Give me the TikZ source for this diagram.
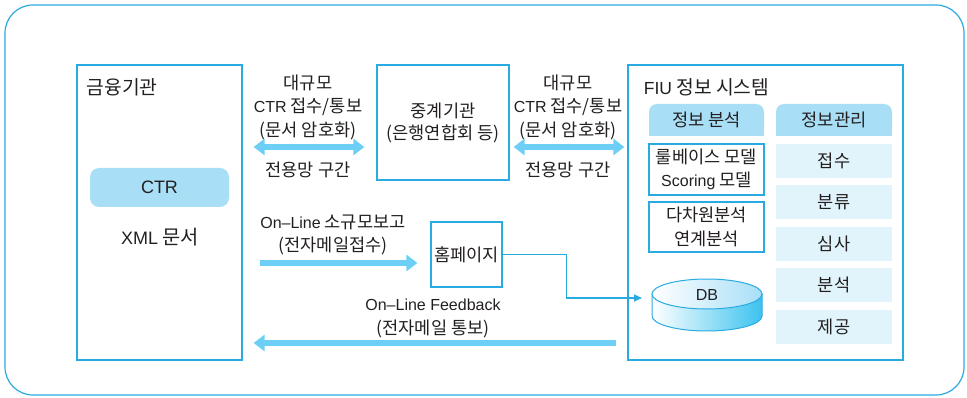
\documentclass[tikz,border=0pt]{standalone}
\usepackage{fontspec}
\setmainfont{Noto Sans CJK KR}[Scale=1.1]
\newfontfamily\lat{Liberation Sans}
\usetikzlibrary{arrows.meta}
\definecolor{fiuline}{HTML}{29ABE2}
\definecolor{fiuarrow}{HTML}{6DCFF6}
\definecolor{fiuhead}{HTML}{A8DFF7}
\definecolor{fiucell}{HTML}{E1F4FC}
\definecolor{fiudb}{HTML}{3CC3EF}
\definecolor{fiutext}{HTML}{231F20}
\tikzset{
	frame/.style={draw=fiuline,line width=1.2pt,inner sep=0pt},
	lbl/.style={text=fiutext,align=center,font=\fontsize{16}{23.5}\selectfont},
	biglbl/.style={text=fiutext,align=center,font=\fontsize{18}{22}\selectfont},
	ttl/.style={text=fiutext,anchor=west,font=\fontsize{17.5}{20}\selectfont},
	fat/.style={draw=fiuarrow,line width=6pt},
	fattip/.tip={Triangle[width=16pt,length=11pt]},
	link/.style={draw=fiuline,line width=1.5pt,-{Triangle[width=7pt,length=8pt]}}
}
\begin{document}
\begin{tikzpicture}[x=1pt,y=1pt]
				\useasboundingbox (0,0) rectangle (967,-398);
				%outer frame
				\draw[fiuline,line width=1.2pt,rounded corners=28] (5,-5) rectangle (964,-395);
				%bank
				\node[frame,minimum width=165,minimum height=295] (bank) at (159.5,-212.5) {};
				\node[ttl] (bankt) at (83,-87) {금융기관};
				\node[fill=fiuhead,rounded corners=9,minimum width=139,minimum height=39,biglbl] (ctr) at (159.5,-187.5) {\lat CTR};
				\node[biglbl] (xml) at (160,-237) {{\lat XML} 문서};
				%relay
				\node[frame,minimum width=132,minimum height=115,lbl] (relay) at (443,-122.5) {중계기관\\[-1.5pt](은행연합회 등)};
				%fiu system
				\node[frame,minimum width=275,minimum height=295] (fiu) at (765.5,-212.5) {};
				\node[ttl] (fiut) at (640,-87) {{\lat FIU} 정보 시스템};
				%%analysis column
				\fill[fiuhead,rounded corners=8] (649,-104) rectangle (764,-136);
				\fill[fiuhead] (649,-120) rectangle (764,-136);
				\node[lbl] (anal) at (706.5,-120) {정보 분석};
				\node[frame,minimum width=115,minimum height=51,lbl] (rule) at (706.5,-169.5) {룰베이스 모델\\{\lat Scoring} 모델};
				\node[frame,minimum width=115,minimum height=50,lbl] (multi) at (706.5,-227) {다차원분석\\연계분석};
				%%db
				\shade[left color=white,right color=fiudb,draw=fiuline,line width=1pt] (652,-294) -- (652,-316) arc[start angle=180,end angle=360,x radius=55,y radius=15] -- (762,-294) -- cycle;
				\shade[left color=white,right color=fiuhead,draw=fiuline,line width=1pt] (707,-294) ellipse[x radius=55,y radius=15];
				\node[lbl] (db) at (707,-295) {\lat DB};
				\coordinate (dbw) at (652,-298);
				%%management column
				\fill[fiuhead,rounded corners=8] (776,-104) rectangle (892,-136);
				\fill[fiuhead] (776,-120) rectangle (892,-136);
				\node[lbl] (mgmt) at (834,-120) {정보관리};
				\foreach \task [count=\i from 0] in {접수,분류,심사,분석,제공}
					\node[fill=fiucell,minimum width=116,minimum height=34,lbl] (cell\i) at (834,-161-41.4*\i) {\task};
				%homepage
				\node[frame,minimum width=71,minimum height=65,lbl] (web) at (466.5,-254.5) {홈페이지};
				%labels
				\node[lbl] (lnk1t) at (308,-107) {대규모\\{\lat CTR} 접수/통보\\(문서 암호화)};
				\node[lbl] (lnk1b) at (308,-170) {전용망 구간};
				\node[lbl] (lnk2t) at (568,-107) {대규모\\{\lat CTR} 접수/통보\\(문서 암호화)};
				\node[lbl] (lnk2b) at (568,-170) {전용망 구간};
				\node[lbl] (small) at (333,-235) {{\lat On–Line} 소규모보고\\(전자메일접수)};
				\node[lbl] (feed) at (433,-318.5) {{\lat On–Line Feedback}\\(전자메일 통보)};
				%arrows
				\coordinate (y1) at (0,-147);
				\coordinate (y2) at (0,-263);
				\coordinate (y3) at (0,-343);
				\draw[fat,fattip-fattip,shorten <=11pt,shorten >=12pt] (bank.east |- y1) -- (relay.west |- y1);
				\draw[fat,fattip-fattip,shorten <=4pt,shorten >=3pt] (relay.east |- y1) -- (fiu.west |- y1);
				\draw[fat,-fattip,shorten <=17pt,shorten >=13pt] (bank.east |- y2) -- (web.west |- y2);
				\draw[fat,-fattip,shorten <=11pt,shorten >=11pt] (fiu.west |- y3) -- (bank.east |- y3);
				\draw[link,shorten >=10pt] (web.east) -- ++(64,0) |- (dbw);
			\end{tikzpicture}
\end{document}
